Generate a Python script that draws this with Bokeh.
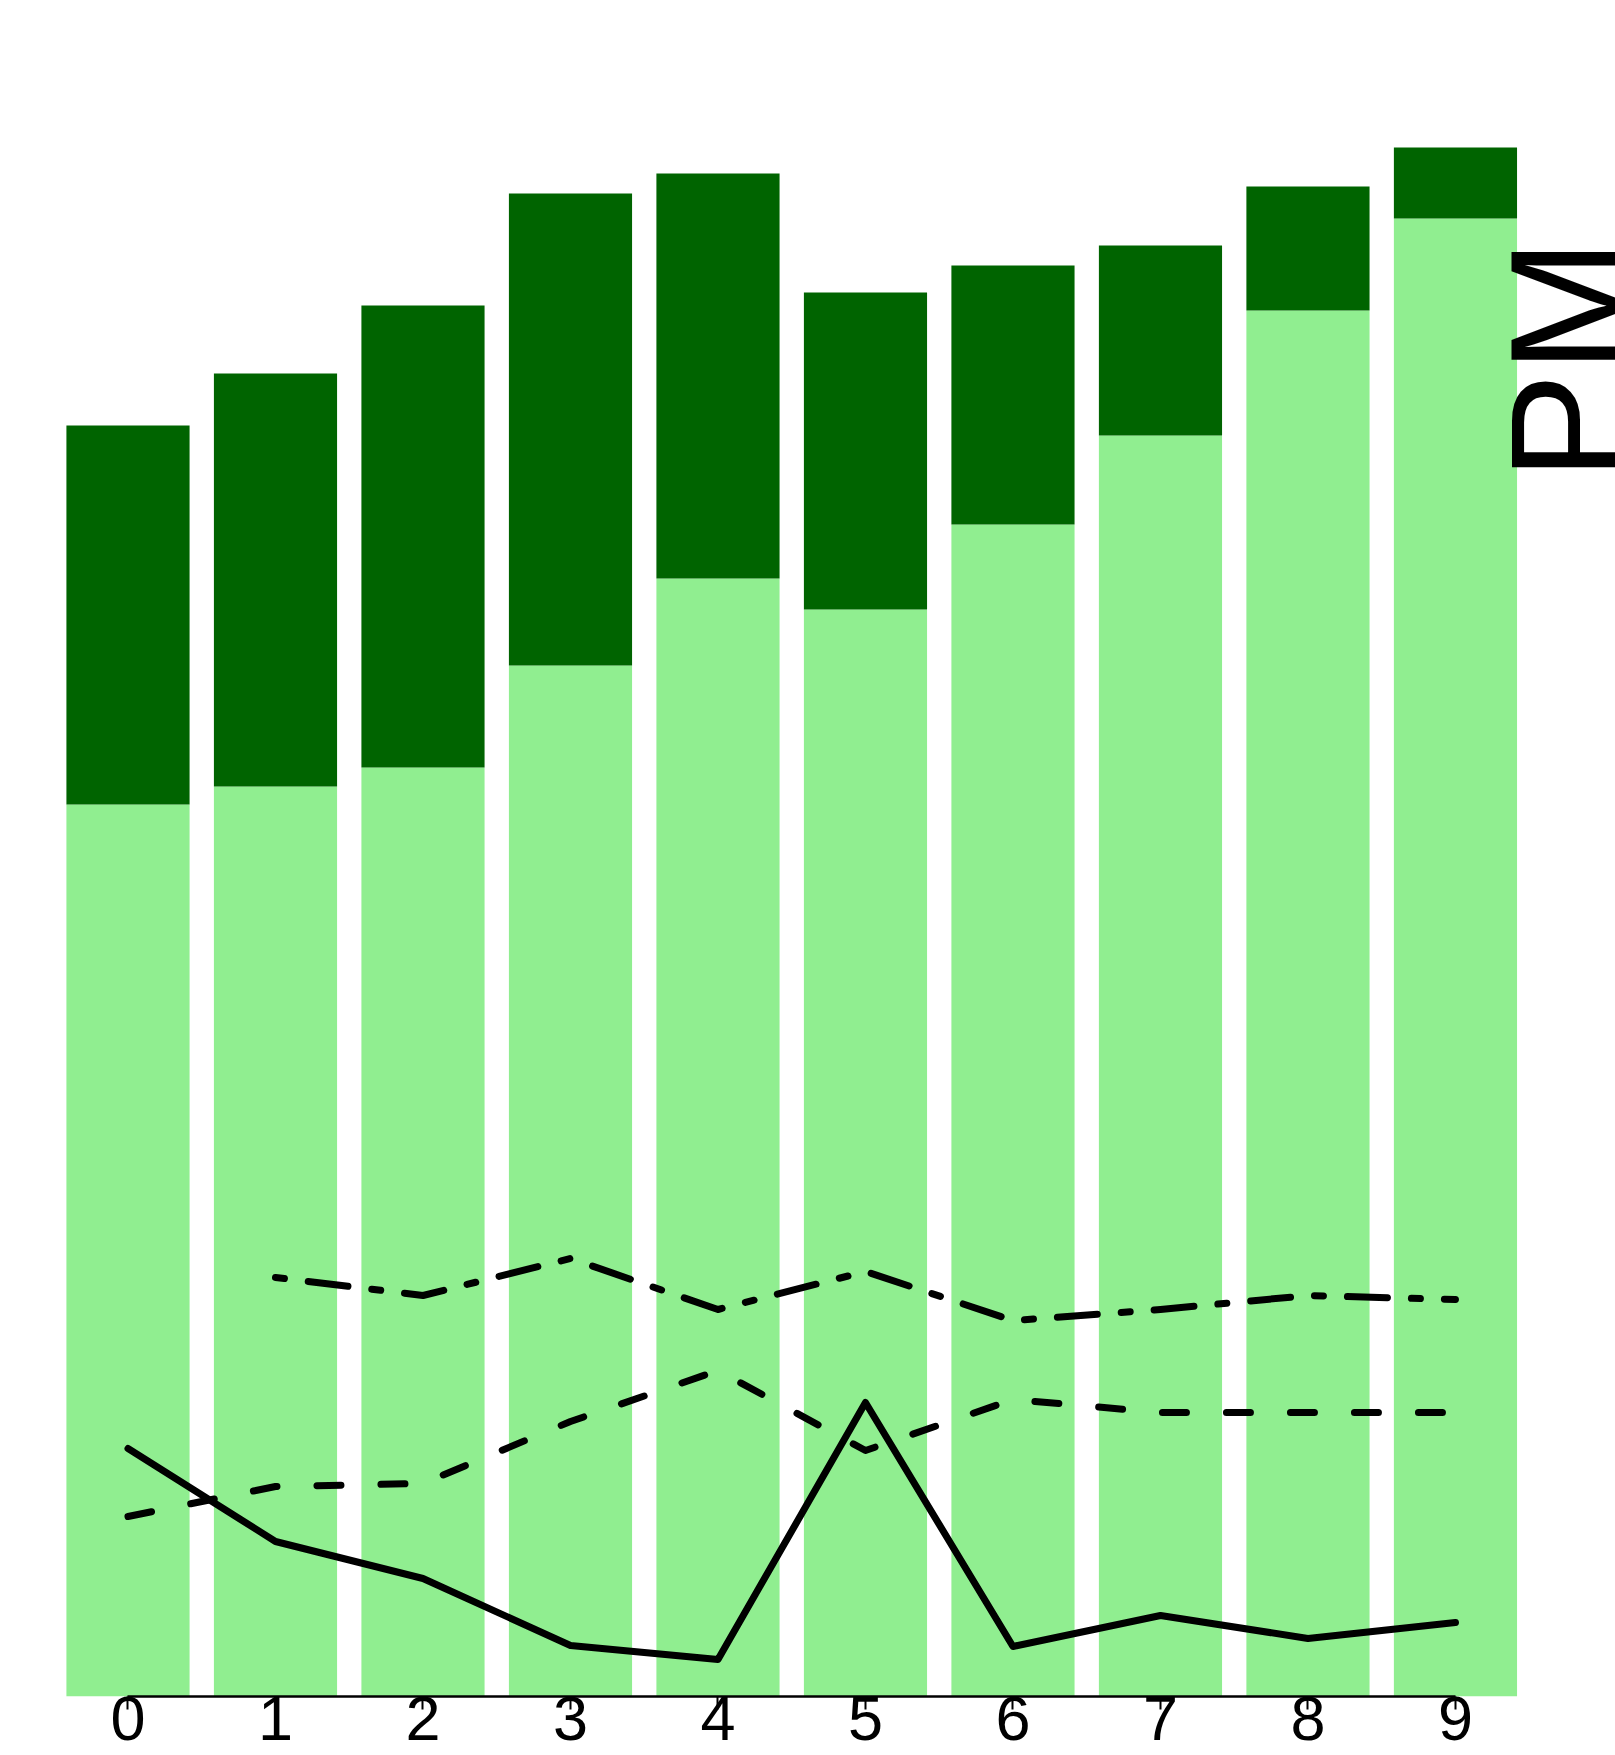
import math
from bokeh.plotting import figure
from bokeh.models import Range1d, FixedTicker, ColumnDataSource, Label
from bokeh.embed import file_html
from bokeh.resources import INLINE

# ---- data ----
categories = [0, 1, 2, 3, 4, 5, 6, 7, 8, 9]
light_values = [89.2, 91.0, 92.9, 103.1, 111.8, 108.7, 117.2, 126.1, 138.6, 147.8]
dark_values = [37.9, 41.3, 46.2, 47.2, 40.5, 31.7, 25.9, 19.0, 12.4, 7.1]
solid_line = [24.8, 15.5, 11.8, 5.1, 3.7, 29.4, 5.0, 8.1, 5.8, 7.4]
dashed_line = [18.0, 21.0, 21.3, 27.5, 32.6, 24.6, 29.7, 28.4, 28.4, 28.4]
dashdot_x = [1, 2, 3, 4, 5, 6, 7, 8, 9]
dashdot_line = [41.9, 40.1, 43.8, 38.7, 42.5, 37.6, 38.7, 40.1, 39.7]
tick_values = [0, 1, 2, 3, 4, 5, 6, 7, 8, 9]
right_label = "PM"

LIGHT = "#90EE90"
DARK = "#006400"
FONT = "Liberation Sans"

totals = [a + b for a, b in zip(light_values, dark_values)]
src = ColumnDataSource(dict(x=categories, light=light_values, total=totals,
                            zero=[0] * len(categories)))

p = figure(width=1615, height=1755, output_backend="svg", toolbar_location=None,
           x_range=Range1d(-0.8644, 10.085), y_range=Range1d(0, 169.6),
           y_axis_location=None, min_border_left=0, min_border_right=0,
           min_border_top=0, min_border_bottom=59)
p.outline_line_color = None
p.grid.visible = False
p.background_fill_color = "white"
p.border_fill_color = "white"

p.vbar(x="x", bottom="zero", top="light", width=0.835, source=src,
       fill_color=LIGHT, line_color=None)
p.vbar(x="x", bottom="light", top="total", width=0.835, source=src,
       fill_color=DARK, line_color=None)

p.line(categories, solid_line, line_color="black", line_width=7, line_cap="round",
       line_join="round")
p.line(categories, dashed_line, line_color="black", line_width=7, line_cap="round",
       line_join="round", line_dash="24 40")
p.line(dashdot_x, dashdot_line, line_color="black", line_width=7, line_cap="round",
       line_join="round", line_dash="9 24 40 24")

ax = p.xaxis[0]
ax.ticker = FixedTicker(ticks=tick_values)
ax.bounds = (0, 9)
ax.axis_line_color = "black"
ax.axis_line_width = 2.5
ax.major_tick_line_color = "black"
ax.major_tick_line_width = 2
ax.major_tick_out = 13
ax.major_tick_in = 0
ax.minor_tick_line_color = None
ax.major_label_standoff = -13
ax.major_label_text_font = FONT
ax.major_label_text_font_size = "63px"
ax.major_label_text_color = "black"

p.add_layout(Label(x=9.759, y=121.6, text=right_label, angle=math.pi / 2,
                   text_align="left", text_baseline="alphabetic",
                   text_font=FONT, text_font_size="161px", text_color="black"))

open("out.html", "w").write(file_html(p, INLINE))
